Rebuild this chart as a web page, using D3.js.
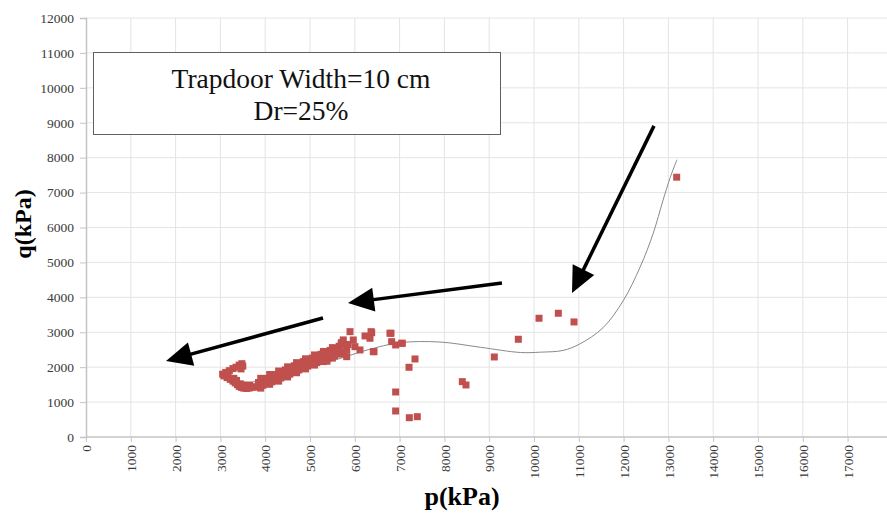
<!DOCTYPE html>
<html><head><meta charset="utf-8">
<script src="https://cdn.jsdelivr.net/npm/d3@7"></script>
<style>body{margin:0;background:#fff}svg{display:block}</style>
</head><body><svg id="c" width="887" height="515"></svg>
<script>
// ---- data ----
const xTicks = [0,1000,2000,3000,4000,5000,6000,7000,8000,9000,10000,11000,12000,13000,14000,15000,16000,17000];
const yTicks = [0,1000,2000,3000,4000,5000,6000,7000,8000,9000,10000,11000,12000];
// measured points [p, q] (kPa)
const hookPts = [
 [3050,1800],[3120,1850],[3200,1900],[3280,1960],[3350,2000],[3420,2060],[3480,2100],[3500,2030],[3460,1950],
 [3080,1750],[3150,1700],[3220,1650],[3280,1600],[3330,1550],[3380,1500],[3420,1450],[3470,1420],[3520,1400],
 [3580,1390],[3640,1400],[3700,1420],[3760,1440],[3300,1680],[3360,1620],[3450,1520],[3550,1480],[3650,1480],[3170,1780]
];
const bandPts = [
 [3850,1430],[3850,1560],[3950,1480],[3950,1620],[4050,1530],[4050,1680],[4150,1580],[4150,1730],
 [4250,1630],[4250,1790],[4350,1690],[4350,1850],[4450,1740],[4450,1920],[4550,1800],[4550,1980],
 [4650,1860],[4650,2040],[4750,1920],[4750,2100],[4850,1970],[4850,2160],[4950,2030],[4950,2210],
 [5050,2080],[5050,2260],[5150,2130],[5150,2310],[5250,2180],[5250,2370],[5350,2230],[5350,2430],
 [5450,2280],[5450,2480],[5550,2330],[5550,2530],[5650,2380],[5650,2600],[5750,2440],[5750,2650],
 [4100,1650],[4400,1820],[4700,1980],[5000,2170],[5300,2300],[5600,2460],[5380,2170],
 [3900,1680],[4100,1790],[4300,1890],[4500,2010],[4700,2130],[4900,2240],[5100,2350],[5300,2450],[5500,2560],[5700,2680],
 [3900,1400],[4100,1510],[4300,1600],[4500,1720],[4700,1840],[4900,1950],[5100,2060],[5300,2160],[5500,2260],[5700,2380]
];
const scatterPts = [
 [5819,2300],[5743,2780],[5893,3017],[5966,2779],[6228,2894],[6377,2988],[6339,2828],[6004,2587],
 [6116,2493],[6413,2444],[6785,2971],[6823,2731],[7046,2684],[6912,2636],[5820,2490],[5700,2700],[5850,2650],
 [6362,3017],[6808,2971],[6429,2444],[7061,2685],[7344,2235],[7210,1997],[6912,1289],[6912,745],
 [7217,553],[7395,582],[8400,1585],[8482,1490],[9114,2292],[9650,2799],[10112,3401],[10543,3544],
 [10893,3295],[13185,7441]
];
// polynomial trend line, traced
const trendPts = [
 [3050,1780],[3350,1640],[3600,1570],[4000,1640],[4800,1920],[5700,2260],[6300,2500],[7000,2700],
 [7900,2720],[8800,2570],[9700,2420],[10150,2430],[10650,2480],[11030,2670],[11540,3130],[11990,3900],
 [12370,4870],[12660,5830],[12880,6780],[13040,7430],[13190,7940]
];
// annotation arrows [[p0,q0],[p1,q1]] (tail -> tip)
const arrows = [
 [[12678,8910],[10848,4126]],
 [[9285,4412],[5848,3839]],
 [[5290,3409],[1786,2177]]
];
const boxLines = ["Trapdoor Width=10 cm","Dr=25%"];
const xTitle = "p(kPa)", yTitle = "q(kPa)";

// ---- layout ----
const svg = d3.select("#c");
const x = d3.scaleLinear().domain([0,18000]).range([86, 892.4]);
const y = d3.scaleLinear().domain([0,12000]).range([437, 18]);
const serif = "'Liberation Serif','Times New Roman',serif";

// grid
const g = svg.append("g");
g.selectAll(".vx").data(xTicks.slice(1).concat([18000])).join("line")
 .attr("x1",d=>x(d)).attr("x2",d=>x(d)).attr("y1",y(0)).attr("y2",y(12000))
 .attr("stroke","#e4e4e4").attr("stroke-width",1);
g.selectAll(".hy").data(yTicks.slice(1)).join("line")
 .attr("x1",x(0)).attr("x2",887).attr("y1",d=>y(d)).attr("y2",d=>y(d))
 .attr("stroke","#e4e4e4").attr("stroke-width",1);

// axes
const xa = svg.append("g").attr("transform",`translate(0,${y(0)})`)
 .call(d3.axisBottom(x).tickValues(xTicks).tickSize(5).tickFormat(d3.format("d")));
xa.select(".domain").attr("stroke","#c4c4c4").attr("stroke-width",1.5).attr("d",`M${x(0)},0H887`);
xa.selectAll(".tick line").attr("stroke","#c4c4c4");
xa.selectAll(".tick text").attr("transform","rotate(-90)").attr("text-anchor","end")
 .attr("x",-8).attr("y",0).attr("dy","0.35em")
 .style("font-family",serif).style("font-size","13.5px").attr("fill","#3a3a3a");

const ya = svg.append("g").attr("transform",`translate(${x(0)},0)`)
 .call(d3.axisLeft(y).tickValues(yTicks).tickSize(6).tickFormat(d3.format("d")));
ya.select(".domain").attr("stroke","#c4c4c4").attr("stroke-width",1.5);
ya.selectAll(".tick line").attr("stroke","#c4c4c4");
ya.selectAll(".tick text").attr("x",-12)
 .style("font-family",serif).style("font-size","13.5px").attr("fill","#3a3a3a");

// titles
svg.append("text").attr("x",462).attr("y",505).attr("text-anchor","middle")
 .style("font-family",serif).style("font-weight","bold").style("font-size","26px").text(xTitle);
svg.append("text").attr("transform","translate(31,224) rotate(-90)").attr("text-anchor","middle")
 .style("font-family",serif).style("font-weight","bold").style("font-size","24px").text(yTitle);

// text box
svg.append("rect").attr("x",93.5).attr("y",52.5).attr("width",407).attr("height",82)
 .attr("fill","#fff").attr("stroke","#606060").attr("stroke-width",1);
svg.selectAll(".bt").data(boxLines).join("text")
 .attr("x",301).attr("y",(d,i)=>88+i*32).attr("text-anchor","middle")
 .style("font-family",serif).style("font-size","27.5px").attr("fill","#111").text(d=>d);

// trend line
svg.append("path").datum(trendPts)
 .attr("d",d3.line().x(d=>x(d[0])).y(d=>y(d[1])).curve(d3.curveCatmullRom))
 .attr("fill","none").attr("stroke","#8a8a8a").attr("stroke-width",1);

// points
const allPts = hookPts.concat(bandPts, scatterPts);
svg.selectAll(".pt").data(allPts).join("rect")
 .attr("x",d=>x(d[0])-3.5).attr("y",d=>y(d[1])-3.5).attr("width",7).attr("height",7)
 .attr("fill","#c0504d");

// arrows
arrows.forEach(a=>{
  const x0=x(a[0][0]), y0=y(a[0][1]), x1=x(a[1][0]), y1=y(a[1][1]);
  const dx=x1-x0, dy=y1-y0, L=Math.hypot(dx,dy), ux=dx/L, uy=dy/L;
  const hl=26, hw=12;
  const bx=x1-ux*hl, by=y1-uy*hl;
  svg.append("line").attr("x1",x0).attr("y1",y0).attr("x2",bx+ux*2).attr("y2",by+uy*2)
   .attr("stroke","#000").attr("stroke-width",3.5);
  svg.append("path").attr("d",`M${x1},${y1}L${bx-uy*hw},${by+ux*hw}L${bx+uy*hw},${by-ux*hw}Z`)
   .attr("fill","#000");
});
</script></body></html>
